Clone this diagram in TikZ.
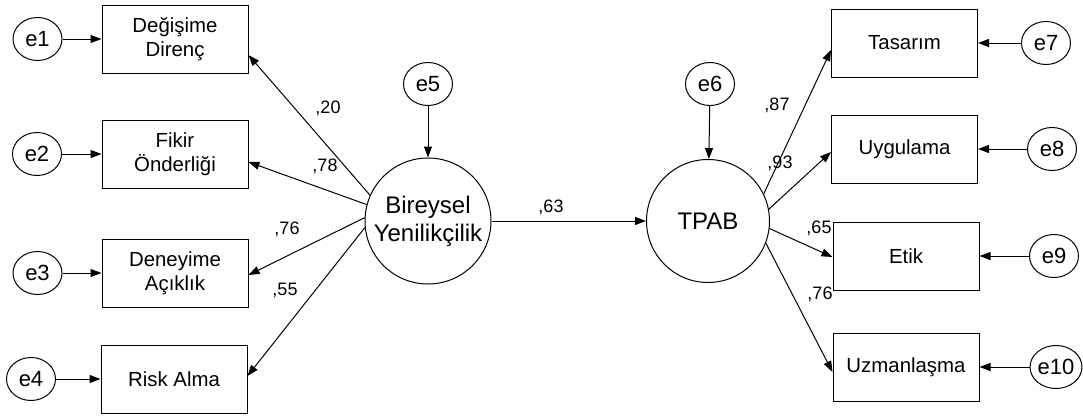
\documentclass[tikz,border=0pt]{standalone}
\usepackage{fontspec}
\setmainfont{Liberation Sans}
\usetikzlibrary{arrows.meta,calc,shapes.geometric}
\begin{document}
\begin{tikzpicture}[x=0.5pt,y=-0.5pt,
  ind/.style={draw,line width=0.5pt,minimum width=73pt,minimum height=34pt,
    inner sep=0pt,align=center,font=\fontsize{10.2}{11.8}\selectfont},
  err/.style={draw,ellipse,line width=0.5pt,minimum width=24.5pt,
    minimum height=21.5pt,inner sep=0pt,font=\fontsize{11}{13}\selectfont},
  lat/.style={draw,circle,line width=0.5pt,inner sep=0pt,align=center,
    font=\fontsize{12}{14}\selectfont},
  coef/.style={inner sep=0pt,font=\fontsize{9}{11}\selectfont},
  arr/.style={line width=0.5pt,-{Triangle[length=5.5pt,width=4pt]}}
]
\useasboundingbox (0,0) rectangle (1083,418);

% observed indicators, left
\node[ind] (b1) at (175,39)  {Değişime\\Direnç};
\node[ind] (b2) at (175,154) {Fikir\\Önderliği};
\node[ind] (b3) at (175,273) {Deneyime\\Açıklık};
\node[ind] (b4) at (174,379) {Risk Alma};

% observed indicators, right
\node[ind] (r1) at (904.5,43)  {Tasarım};
\node[ind] (r2) at (904.5,149) {Uygulama};
\node[ind] (r3) at (906,256)   {Etik};
\node[ind] (r4) at (906,367)   {Uzmanlaşma};

% latent variables
\node[lat,minimum size=63pt]   (BY) at (428,221) {Bireysel\\Yenilikçilik};
\node[lat,minimum size=61.5pt] (TP) at (708,221) {TPAB};

% error terms
\node[err] (e1) at (37.5,39)  {e1};
\node[err] (e2) at (37,154)   {e2};
\node[err] (e3) at (37.5,273) {e3};
\node[err] (e4) at (31,379)   {e4};
\node[err] (e5) at (428,84)   {e5};
\node[err] (e6) at (710,84)   {e6};
\node[err] (e7) at (1046,43)  {e7};
\node[err] (e8) at (1052,149) {e8};
\node[err] (e9) at (1054,256) {e9};
\node[err] (e10) at (1056,367) {e10};

% coefficients
\node[coef] (c1) at (328,108) {,20};
\node[coef] (c2) at (325,166) {,78};
\node[coef] (c3) at (287,229) {,76};
\node[coef] (c4) at (285,290) {,55};
\node[coef] (c5) at (551,207) {,63};
\node[coef] (c6) at (777,105) {,87};
\node[coef] (c7) at (780,163) {,93};
\node[coef] (c8) at (819,228) {,65};
\node[coef] (c9) at (820,294) {,76};

% loadings
\draw[arr] (BY.156.6) -- ($(b1.east)+(0,16)$);
\draw[arr] (BY.165)   -- ($(b2.east)+(0,8)$);
\draw[arr] (BY.177)   -- ($(b3.east)+(0,2)$);
\draw[arr] (BY.186)   -- ($(b4.east)+(0,-3)$);
\draw[arr] (TP.26)    -- ($(r1.west)+(0,7)$);
\draw[arr] (TP.11)    -- ($(r2.west)+(0,3)$);
\draw[arr] (TP.-7.5)  -- ($(r3.west)+(0,1)$);
\draw[arr] (TP.-21)   -- ($(r4.west)+(0,5)$);

% structural path
\draw[arr] (BY) -- (TP);

% error paths
\draw[arr] (e1.east) -- (b1.west);
\draw[arr] (e2.east) -- (b2.west);
\draw[arr] (e3.east) -- (b3.west);
\draw[arr] (e4.east) -- (b4.west);
\draw[arr] (e5) -- (BY);
\draw[arr] (e6) -- (TP);
\draw[arr] (e7.west) -- (r1.east);
\draw[arr] (e8.west) -- (r2.east);
\draw[arr] (e9.west) -- (r3.east);
\draw[arr] (e10.west) -- (r4.east);
\end{tikzpicture}
\end{document}
